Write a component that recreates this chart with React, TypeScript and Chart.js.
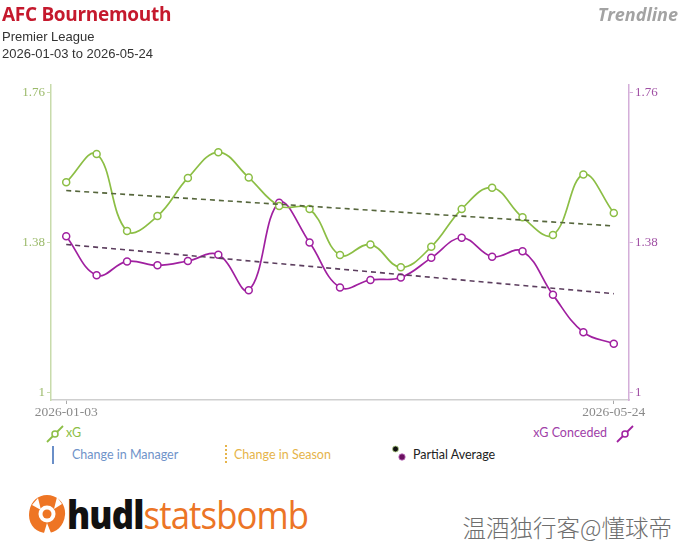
import React, { useEffect, useRef } from 'react';
import { Chart, registerables } from 'chart.js';
Chart.register(...registerables);

// ---- data ----
const categories = ['1', '2', '3', '4', '5', '6', '7', '8', '9', '10', '11', '12', '13', '14', '15', '16', '17', '18', '19'];
const tickLabels = ['2026-01-03', '', '', '', '', '', '', '', '', '', '', '', '', '', '', '', '', '', '2026-05-24'];
const xG = [1.533, 1.605, 1.409, 1.447, 1.544, 1.609, 1.545, 1.473, 1.465, 1.348, 1.375, 1.317, 1.369, 1.465, 1.519, 1.444, 1.399, 1.553, 1.455];
const xGConceded = [1.396, 1.297, 1.332, 1.322, 1.333, 1.349, 1.259, 1.481, 1.38, 1.266, 1.285, 1.291, 1.341, 1.392, 1.344, 1.358, 1.247, 1.152, 1.123];
const xGTrend = [1.512, 1.422];
const xGConcededTrend = [1.375, 1.25];
const yTicks = [1, 1.38, 1.76];
const yMin = 0.98;
const yMax = 1.78;

const GREEN = '#8cbe45';
const PURPLE = '#a020a0';
const SERIF = 'Liberation Serif, Times New Roman, serif';

function trendSeries(ends: number[]) {
  return categories.map((_, i) => (i === 0 ? ends[0] : i === categories.length - 1 ? ends[1] : null));
}

export default function App() {
  const ref = useRef<HTMLCanvasElement>(null);
  useEffect(() => {
    document.body.style.margin = '0';
    Chart.defaults.font.family = SERIF;
    const last = categories.length - 1;
    const chart = new Chart(ref.current!, {
      type: 'line',
      data: {
        labels: categories,
        datasets: [
          {
            label: 'xG trend',
            data: trendSeries(xGTrend),
            borderColor: '#56663c',
            borderWidth: 1.6,
            borderDash: [5, 4],
            pointRadius: 0,
            spanGaps: true,
            tension: 0,
            yAxisID: 'y',
          },
          {
            label: 'xG Conceded trend',
            data: trendSeries(xGConcededTrend),
            borderColor: '#5c3e5e',
            borderWidth: 1.6,
            borderDash: [5, 4],
            pointRadius: 0,
            spanGaps: true,
            tension: 0,
            yAxisID: 'y2',
          },
          {
            label: 'xG',
            data: xG,
            borderColor: GREEN,
            borderWidth: 1.7,
            pointRadius: 3.5,
            pointBorderWidth: 1.5,
            pointBackgroundColor: '#ffffff',
            pointBorderColor: GREEN,
            tension: 0.4,
            yAxisID: 'y',
          },
          {
            label: 'xG Conceded',
            data: xGConceded,
            borderColor: PURPLE,
            borderWidth: 1.7,
            pointRadius: 3.5,
            pointBorderWidth: 1.5,
            pointBackgroundColor: '#ffffff',
            pointBorderColor: PURPLE,
            tension: 0.4,
            yAxisID: 'y2',
          },
        ],
      },
      options: {
        animation: false,
        responsive: false,
        events: [],
        font: { family: SERIF },
        layout: { padding: { top: 85, left: 0, right: 0, bottom: 0 } },
        plugins: { legend: { display: false }, tooltip: { enabled: false } },
        scales: {
          x: {
            offset: true,
            border: { color: '#cfcfcf', width: 1.5 },
            grid: {
              drawOnChartArea: false,
              drawTicks: true,
              tickLength: 4,
              color: (ctx: any) => (ctx.index === 0 || ctx.index === last ? '#aaaaaa' : 'rgba(0,0,0,0)'),
            },
            ticks: {
              autoSkip: false,
              maxRotation: 0,
              padding: 0,
              color: '#8a8a8a',
              font: { family: SERIF, size: 13.5 },
              callback: (_v: any, i: number) => tickLabels[i],
            },
            afterFit: (s: any) => {
              s.height = 20;
            },
          },
          y: {
            position: 'left',
            min: yMin,
            max: yMax,
            border: { color: '#c8dbab', width: 1.5 },
            grid: { drawOnChartArea: false, drawTicks: true, tickLength: 4, color: '#c8dbab' },
            afterBuildTicks: (s: any) => {
              s.ticks = yTicks.map((v) => ({ value: v }));
            },
            ticks: {
              padding: 2,
              color: '#9bba6a',
              font: { family: SERIF, size: 13 },
              callback: (v: any) => String(v),
            },
            afterFit: (s: any) => {
              s.width = 51;
            },
          },
          y2: {
            position: 'right',
            min: yMin,
            max: yMax,
            border: { color: '#d4aed9', width: 1.5 },
            grid: { drawOnChartArea: false, drawTicks: true, tickLength: 4, color: '#d4aed9' },
            afterBuildTicks: (s: any) => {
              s.ticks = yTicks.map((v) => ({ value: v }));
            },
            ticks: {
              padding: 2,
              color: '#a050a4',
              font: { family: SERIF, size: 13 },
              callback: (v: any) => String(v),
            },
            afterFit: (s: any) => {
              s.width = 51;
            },
          },
        },
      },
    } as any);
    return () => chart.destroy();
  }, []);

  const abs = (o: React.CSSProperties): React.CSSProperties => ({ position: 'absolute', whiteSpace: 'nowrap', ...o });
  const legendFont = 'Lato, "Open Sans", sans-serif';

  return (
    <div style={{ position: 'relative', width: 680, height: 552, background: '#fff', overflow: 'hidden' }}>
      <canvas ref={ref} width={680} height={420} style={{ position: 'absolute', left: 0, top: 0, display: 'block' }} />

      <div style={abs({ left: 2, top: 2, fontFamily: '"Open Sans", sans-serif', fontWeight: 700, fontSize: 19, letterSpacing: -0.3, lineHeight: '24px', color: '#c5192d' })}>
        AFC Bournemouth
      </div>
      <div style={abs({ left: 2, top: 29, fontFamily: '"Liberation Sans", Arial, sans-serif', fontSize: 13, lineHeight: '16px', color: '#333' })}>
        Premier League
      </div>
      <div style={abs({ left: 2, top: 46, fontFamily: '"Liberation Sans", Arial, sans-serif', fontSize: 13, lineHeight: '16px', color: '#333' })}>
        2026-01-03 to 2026-05-24
      </div>
      <div style={abs({ right: 2, top: 3, fontFamily: '"Open Sans", sans-serif', fontWeight: 700, fontStyle: 'italic', fontSize: 18, lineHeight: '22px', color: '#a3a3a3' })}>
        Trendline
      </div>

      {/* legend row 1 */}
      <svg style={abs({ left: 44, top: 423 })} width={22} height={22}>
        <line x1={3} y1={19} x2={19} y2={3} stroke={GREEN} strokeWidth={1.8} />
        <circle cx={11} cy={11} r={3} fill="#fff" stroke={GREEN} strokeWidth={1.5} />
      </svg>
      <div style={abs({ left: 66, top: 425, fontFamily: legendFont, fontSize: 12.5, lineHeight: '16px', color: GREEN })}>xG</div>
      <div style={abs({ right: 73, top: 425, fontFamily: legendFont, fontSize: 12.5, lineHeight: '16px', color: '#a040a8' })}>xG Conceded</div>
      <svg style={abs({ left: 614, top: 423 })} width={22} height={22}>
        <line x1={3} y1={19} x2={19} y2={3} stroke={PURPLE} strokeWidth={1.8} />
        <circle cx={11} cy={11} r={3} fill="#fff" stroke={PURPLE} strokeWidth={1.5} />
      </svg>

      {/* legend row 2 */}
      <div style={abs({ left: 52, top: 446, width: 2, height: 18, background: '#6a8fc8' })} />
      <div style={abs({ left: 72, top: 447, fontFamily: legendFont, fontSize: 12.5, lineHeight: '16px', color: '#6f93c9' })}>Change in Manager</div>
      <div
        style={abs({
          left: 225,
          top: 445,
          width: 2,
          height: 19,
          background: 'repeating-linear-gradient(to bottom, #e6b44a 0px, #e6b44a 2px, transparent 2px, transparent 4px)',
        })}
      />
      <div style={abs({ left: 234, top: 447, fontFamily: legendFont, fontSize: 12.5, lineHeight: '16px', color: '#e6b44a' })}>Change in Season</div>
      <svg style={abs({ left: 390, top: 444 })} width={18} height={18}>
        <circle cx={5.5} cy={5} r={3} fill="#111" stroke="#b9d88c" strokeWidth={0.8} />
        <circle cx={12} cy={13} r={3.2} fill="#6a1060" stroke="#c070c0" strokeWidth={0.8} />
      </svg>
      <div style={abs({ left: 413, top: 447, fontFamily: legendFont, fontSize: 12.5, lineHeight: '16px', color: '#222' })}>Partial Average</div>

      {/* logo */}
      <svg style={abs({ left: 27, top: 493 })} width={40} height={42} viewBox="0 0 40 42">
        <path d="M20 2 C31 2 39 11 38 22 C37 33 29 40 20 40 C10 40 2 33 2 22 C2 11 9 2 20 2 Z" fill="#ee7524" />
        <circle cx={20} cy={21} r={8.5} fill="#fff" />
        <path d="M5 12 L14 17 L11 5 Z" fill="#fff" />
        <path d="M35 11 L27 16 L30 4 Z" fill="#fff" />
        <path d="M17 40 L20 30 L24 40 Z" fill="#fff" />
        <circle cx={20} cy={21} r={4.5} fill="#ee7524" />
      </svg>
      <div
        style={abs({
          left: 67,
          top: 490,
          fontFamily: '"Open Sans", sans-serif',
          fontSize: 39,
          lineHeight: '48px',
          letterSpacing: -1,
          transform: 'scaleX(0.89)',
          transformOrigin: 'left center',
        })}
      >
        <span style={{ fontWeight: 800, color: '#111' }}>hudl</span>
        <span style={{ fontWeight: 400, color: '#ec7526' }}>statsbomb</span>
      </div>

      <div style={abs({ right: 8, top: 512, fontFamily: '"Noto Sans CJK SC", sans-serif', fontWeight: 300, fontSize: 23.5, lineHeight: '30px', color: '#6e6e6e' })}>
        温酒独行客@懂球帝
      </div>
    </div>
  );
}
